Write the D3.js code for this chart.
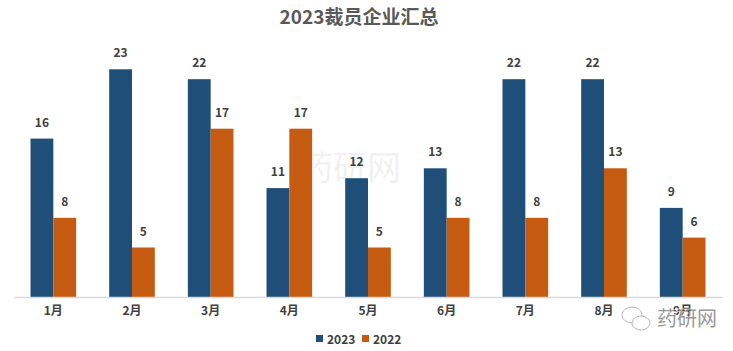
<!DOCTYPE html>
<html>
  <head>
    <meta charset="utf-8">
    <title>2023裁员企业汇总</title>
    <script src="https://d3js.org/d3.v7.min.js"></script>
    <style>
      body { margin: 0; background: #fff; }
      text { font-family: "Microsoft YaHei", "Noto Sans CJK SC", sans-serif; }
    </style>
  </head>
  <body>
    <script>
      const months = ['1月', '2月', '3月', '4月', '5月', '6月', '7月', '8月', '9月'];
      const values2023 = [16, 23, 22, 11, 12, 13, 22, 22, 9];
      const values2022 = [8, 5, 17, 17, 5, 8, 8, 13, 6];
      const seriesNames = ['2023', '2022'];
      const colors = ['#1F4E79', '#C55A11'];

      const width = 733, height = 351;
      const left = 14, right = 722, baseline = 297;

      const svg = d3.select('body').append('svg')
        .attr('width', width)
        .attr('height', height);

      svg.append('text')
        .attr('x', 359).attr('y', 24)
        .attr('text-anchor', 'middle')
        .style('font-size', '19px').style('font-weight', 'bold')
        .style('fill', '#595959')
        .text('2023裁员企业汇总');

      // faint watermark in the middle of the plot
      svg.append('text')
        .attr('x', 350).attr('y', 180)
        .attr('text-anchor', 'middle')
        .style('font-size', '34px')
        .style('fill', '#000').style('opacity', 0.05)
        .text('药研网');

      const x = d3.scaleBand().domain(months).range([left, right]).paddingInner(0.42).paddingOuter(0.21);
      const xSub = d3.scaleBand().domain(seriesNames).range([0, x.bandwidth()]);
      const y = d3.scaleLinear().domain([0, 25]).range([baseline, baseline - 25 * 9.9]);

      const rows = months.map((m, i) => ({ month: m, '2023': values2023[i], '2022': values2022[i] }));

      const groups = svg.selectAll('g.month').data(rows)
        .enter().append('g')
        .attr('class', 'month')
        .attr('transform', d => `translate(${x(d.month)},0)`);

      groups.selectAll('rect').data(d => seriesNames.map(k => ({ key: k, value: d[k] })))
        .enter().append('rect')
        .attr('x', d => xSub(d.key))
        .attr('y', d => y(d.value))
        .attr('width', xSub.bandwidth())
        .attr('height', d => baseline - y(d.value))
        .style('fill', (d, i) => colors[i]);

      groups.selectAll('text.val').data(d => seriesNames.map(k => ({ key: k, value: d[k] })))
        .enter().append('text')
        .attr('class', 'val')
        .attr('x', d => xSub(d.key) + xSub.bandwidth() / 2)
        .attr('y', d => y(d.value) - 12)
        .attr('text-anchor', 'middle')
        .style('font-size', '12px').style('font-weight', 'bold')
        .style('fill', '#404040')
        .text(d => d.value);

      const xAxis = d3.axisBottom(x).tickSize(0).tickPadding(9);
      const ax = svg.append('g').attr('transform', `translate(0, ${baseline})`).call(xAxis);
      ax.select('.domain').attr('stroke', '#D9D9D9').attr('stroke-width', 1.5);
      ax.selectAll('text')
        .style('font-size', '12px').style('font-weight', 'bold')
        .style('fill', '#404040')
        .style('font-family', '"Microsoft YaHei", "Noto Sans CJK SC", sans-serif');

      // legend
      const legend = svg.append('g').attr('transform', 'translate(316, 344)');
      const items = legend.selectAll('g').data(seriesNames).enter().append('g')
        .attr('transform', (d, i) => `translate(${i * 46}, 0)`);
      items.append('rect').attr('x', 0).attr('y', -9).attr('width', 7).attr('height', 7)
        .style('fill', (d, i) => colors[i]);
      items.append('text').attr('x', 11).attr('y', 0)
        .style('font-size', '12px').style('font-weight', 'bold')
        .style('fill', '#404040')
        .text(d => d);

      // corner watermark
      const wm = svg.append('g').attr('transform', 'translate(622, 308)').style('opacity', 0.6);
      wm.append('ellipse').attr('cx', 10).attr('cy', 7).attr('rx', 10).attr('ry', 8)
        .style('fill', '#fff').style('stroke', '#888');
      wm.append('ellipse').attr('cx', 19).attr('cy', 15).attr('rx', 9).attr('ry', 7)
        .style('fill', '#fff').style('stroke', '#888');
      wm.append('text').attr('x', 35).attr('y', 18)
        .style('font-size', '20px').style('fill', '#555')
        .style('stroke', '#fff').style('stroke-width', 2).style('paint-order', 'stroke')
        .text('药研网');
    </script>
  </body>
</html>
